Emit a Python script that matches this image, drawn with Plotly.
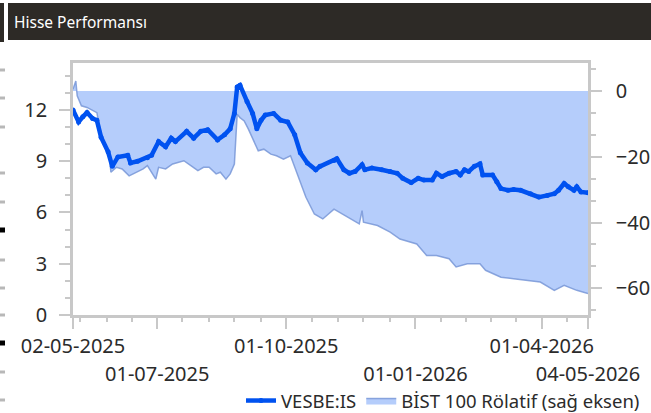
import plotly.graph_objects as go
from datetime import date, timedelta

# ---------------- data ----------------
vesbe_dates = [
    "2025-05-02", "2025-05-06", "2025-05-09", "2025-05-12", "2025-05-16", "2025-05-19", "2025-05-22",
    "2025-05-27", "2025-05-30", "2025-06-03", "2025-06-10", "2025-06-12", "2025-06-17", "2025-06-24",
    "2025-06-27", "2025-07-02", "2025-07-07", "2025-07-11", "2025-07-14", "2025-07-22", "2025-07-27",
    "2025-08-01", "2025-08-06", "2025-08-13", "2025-08-18", "2025-08-22", "2025-08-25", "2025-08-27",
    "2025-08-29", "2025-09-03", "2025-09-07", "2025-09-10", "2025-09-13", "2025-09-16", "2025-09-22",
    "2025-09-27", "2025-10-02", "2025-10-07", "2025-10-11", "2025-10-16", "2025-10-22", "2025-10-25",
    "2025-11-04", "2025-11-06", "2025-11-11", "2025-11-15", "2025-11-19", "2025-11-24", "2025-11-26",
    "2025-12-01", "2025-12-08", "2025-12-14", "2025-12-19", "2025-12-23", "2025-12-29", "2026-01-03",
    "2026-01-07", "2026-01-13", "2026-01-16", "2026-01-20", "2026-01-25", "2026-01-30", "2026-02-02",
    "2026-02-05", "2026-02-08", "2026-02-12", "2026-02-16", "2026-02-18", "2026-02-25", "2026-02-28",
    "2026-03-03", "2026-03-08", "2026-03-12", "2026-03-17", "2026-03-24", "2026-03-30", "2026-04-05",
    "2026-04-10", "2026-04-13", "2026-04-17", "2026-04-20", "2026-04-24", "2026-04-26", "2026-04-29",
    "2026-05-04",
]
vesbe_values = [
    12.0, 11.3, 11.6, 11.85, 11.5, 11.4, 10.4,
    9.55, 8.7, 9.25, 9.35, 8.9, 9.0, 9.2,
    9.35, 10.15, 9.85, 10.35, 10.15, 10.75, 10.35,
    10.75, 10.85, 10.25, 10.55, 10.9, 11.8, 13.35,
    13.45, 12.5, 11.8, 10.9, 11.4, 11.7, 11.8,
    11.4, 11.3, 10.55, 9.5, 8.9, 8.5, 8.7,
    9.05, 9.15, 8.5, 8.3, 8.4, 8.8, 8.5,
    8.6, 8.5, 8.4, 8.3, 8.0, 7.75, 8.0,
    7.9, 7.9, 8.3, 8.1, 8.3, 8.4, 8.2,
    8.5, 8.4, 8.7, 8.85, 8.2, 8.2, 7.8,
    7.4, 7.3, 7.35, 7.3, 7.1, 6.9, 7.0,
    7.1, 7.3, 7.7, 7.5, 7.3, 7.5, 7.2,
    7.15,
]

bist_rel_dates = [
    "2025-05-02", "2025-05-04", "2025-05-05", "2025-05-08", "2025-05-12", "2025-05-17", "2025-05-19",
    "2025-05-21", "2025-05-24", "2025-05-28", "2025-05-29", "2025-06-02", "2025-06-06", "2025-06-11",
    "2025-06-16", "2025-06-21", "2025-06-24", "2025-06-28", "2025-06-30", "2025-07-02", "2025-07-07",
    "2025-07-12", "2025-07-17", "2025-07-20", "2025-07-25", "2025-07-30", "2025-08-03", "2025-08-07",
    "2025-08-12", "2025-08-15", "2025-08-19", "2025-08-22", "2025-08-25", "2025-08-26", "2025-08-27",
    "2025-08-29", "2025-09-01", "2025-09-04", "2025-09-08", "2025-09-11", "2025-09-15", "2025-09-20",
    "2025-09-24", "2025-09-29", "2025-10-04", "2025-10-07", "2025-10-11", "2025-10-15", "2025-10-21",
    "2025-10-27", "2025-11-04", "2025-11-10", "2025-11-19", "2025-11-22", "2025-11-24", "2025-11-25",
    "2025-12-05", "2025-12-14", "2025-12-21", "2026-01-02", "2026-01-09", "2026-01-16", "2026-01-25",
    "2026-01-30", "2026-02-07", "2026-02-16", "2026-02-20", "2026-02-25", "2026-03-03", "2026-03-12",
    "2026-03-24", "2026-03-31", "2026-04-10", "2026-04-17", "2026-04-26", "2026-05-04",
]
bist_rel_values = [
    0.5, 3.0, -1.5, -4.5, -5.0, -6.0, -6.6,
    -11.0, -16.0, -20.0, -24.7, -23.2, -23.7, -25.8,
    -24.7, -23.7, -22.7, -25.2, -26.8, -23.2, -23.7,
    -22.2, -21.7, -21.2, -22.7, -24.2, -23.2, -23.2,
    -25.2, -24.7, -26.8, -25.2, -22.2, -14.1, -7.1,
    -8.1, -9.1, -11.6, -15.2, -18.2, -17.7, -19.2,
    -19.7, -20.7, -19.7, -23.2, -28.0, -32.3, -37.4,
    -38.9, -35.9, -37.4, -39.9, -40.4, -36.4, -39.9,
    -40.9, -42.9, -45.0, -46.5, -50.0, -50.0, -51.0,
    -53.5, -52.5, -52.5, -54.5, -55.5, -56.6, -57.1,
    -57.6, -58.1, -60.6, -59.1, -60.6, -61.6,
]

x_tick_dates = ["2025-05-02", "2025-07-01", "2025-10-01", "2026-01-01", "2026-04-01", "2026-05-04"]
x_tick_labels = ["02-05-2025", "01-07-2025", "01-10-2025", "01-01-2026", "01-04-2026", "04-05-2026"]
left_tick_vals = [0, 3, 6, 9, 12]
right_tick_vals = [0, -20, -40, -60]

title_text = "Hisse Performansı"
series_names = ["VESBE:IS", "BİST 100 Rölatif (sağ eksen)"]

# ---------------- layout helpers ----------------
W, H = 651, 413
PL, PR, PT, PB = 73, 588, 63, 315  # plot area in pixels
X_RANGE = [x_tick_dates[0], x_tick_dates[-1]]


def px(xp):
    return (xp - PL) / (PR - PL)


def py(yp):
    return (PB - yp) / (PB - PT)


# staggered tick labels: row 1 on the main axis, row 2 on an overlay axis
row1_text = [t if i % 2 == 0 else "" for i, t in enumerate(x_tick_labels)]
row2_vals = x_tick_dates[1::2]
row2_text = x_tick_labels[1::2]

# minor ticks: each quarter split in five parts
minor_vals = []
q_starts = [date(2025, 4, 1), date(2025, 7, 1), date(2025, 10, 1), date(2026, 1, 1), date(2026, 4, 1), date(2026, 7, 1)]
for a, b in zip(q_starts[:-1], q_starts[1:]):
    span = (b - a).days
    for k in range(1, 5):
        d = a + timedelta(days=round(span * k / 5))
        if date(2025, 5, 2) < d < date(2026, 5, 4):
            minor_vals.append(d.isoformat())

AX = "#c8c8c8"
TXT = "#2b2b2b"
FONT = "Noto Sans"
TICK_FONT = dict(family=FONT, size=20, color=TXT)

fig = go.Figure()

fig.add_trace(go.Scatter(
    x=bist_rel_dates, y=bist_rel_values, name=series_names[1],
    mode="lines", fill="tozeroy", fillcolor="#b5cdfb",
    line=dict(color="rgba(120,150,215,0.85)", width=1.5),
    yaxis="y", legendrank=2, hoverinfo="skip",
))
fig.add_trace(go.Scatter(
    x=vesbe_dates, y=vesbe_values, name=series_names[0],
    mode="lines+markers", line=dict(color="#0052f0", width=4.5),
    marker=dict(size=5, color="#0052f0"),
    yaxis="y2", legendrank=1,
))
# invisible carrier trace for the second row of date labels
fig.add_trace(go.Scatter(
    x=x_tick_dates, y=[None] * len(x_tick_dates), xaxis="x2", yaxis="y",
    showlegend=False, hoverinfo="skip", mode="lines",
))

shapes = [
    dict(type="rect", xref="paper", yref="paper", x0=px(8), x1=px(651), y0=py(40), y1=py(3),
         fillcolor="#2d2a26", line=dict(width=0), layer="above"),
    dict(type="rect", xref="paper", yref="paper", x0=px(0), x1=px(4), y0=py(42), y1=py(3),
         fillcolor="#2d2a26", line=dict(width=0), layer="above"),
]
for yy in [70, 98, 127, 173, 202, 260, 288, 315, 372, 400]:
    shapes.append(dict(type="rect", xref="paper", yref="paper", x0=px(0), x1=px(5),
                       y0=py(yy + 1.5), y1=py(yy - 1.5), fillcolor="#b8b8b8", line=dict(width=0)))
for yy in [230, 343]:
    shapes.append(dict(type="rect", xref="paper", yref="paper", x0=px(0), x1=px(5),
                       y0=py(yy + 2.5), y1=py(yy - 2.5), fillcolor="#000000", line=dict(width=0)))

fig.update_layout(
    width=W, height=H,
    margin=dict(l=PL, r=W - PR, t=PT, b=H - PB, autoexpand=False),
    paper_bgcolor="white", plot_bgcolor="white",
    font=dict(family=FONT, size=16, color=TXT),
    showlegend=True,
    legend=dict(orientation="h", x=px(645), xanchor="right", y=py(401), yanchor="middle",
                font=dict(size=18.5, color=TXT), bgcolor="rgba(0,0,0,0)",
                itemwidth=30, tracegroupgap=0),
    shapes=shapes,
    annotations=[dict(text=title_text, xref="paper", yref="paper", x=px(12), y=py(22),
                      xanchor="left", yanchor="middle", showarrow=False,
                      font=dict(family=FONT, size=15.5, color="white"))],
    xaxis=dict(
        type="date", range=X_RANGE, automargin=False,
        tickmode="array", tickvals=x_tick_dates, ticktext=row1_text, tickangle=0,
        showgrid=False, zeroline=False,
        showline=True, linecolor=AX, linewidth=2.5, mirror=True,
        ticks="outside", ticklen=11, tickwidth=2, tickcolor=AX,
        tickfont=TICK_FONT, ticklabelstandoff=0,
        minor=dict(tickmode="array", tickvals=minor_vals, ticks="outside", ticklen=4,
                   tickwidth=2, tickcolor=AX, showgrid=False),
    ),
    xaxis2=dict(
        type="date", range=X_RANGE, automargin=False, overlaying="x", anchor="y", side="bottom",
        tickmode="array", tickvals=row2_vals, ticktext=row2_text, tickangle=0,
        showgrid=False, zeroline=False, showline=False, ticks="",
        tickfont=TICK_FONT, ticklabelstandoff=45,
    ),
    yaxis=dict(
        side="right", range=[-68.1, 8.5], automargin=False,
        tickmode="array", tickvals=right_tick_vals,
        showgrid=False, zeroline=False,
        showline=True, linecolor=AX, linewidth=2.5,
        ticks="outside", ticklen=11, tickwidth=2, tickcolor=AX,
        tickfont=TICK_FONT, ticklabelstandoff=10,
        minor=dict(dtick=20 / 3, tick0=0, ticks="outside", ticklen=5, tickwidth=2,
                   tickcolor=AX, showgrid=False),
    ),
    yaxis2=dict(
        overlaying="y", side="left", range=[0, 14.75], automargin=False,
        tickmode="array", tickvals=left_tick_vals,
        showgrid=False, zeroline=False,
        showline=True, linecolor=AX, linewidth=2.5,
        ticks="outside", ticklen=11, tickwidth=2, tickcolor=AX,
        tickfont=TICK_FONT, ticklabelstandoff=8,
        minor=dict(dtick=1, tick0=0, ticks="outside", ticklen=5, tickwidth=2,
                   tickcolor=AX, showgrid=False),
    ),
)

fig.write_html("out.html", config={"displayModeBar": False},
               post_script="document.body.style.margin='0';document.body.style.overflow='hidden';")
